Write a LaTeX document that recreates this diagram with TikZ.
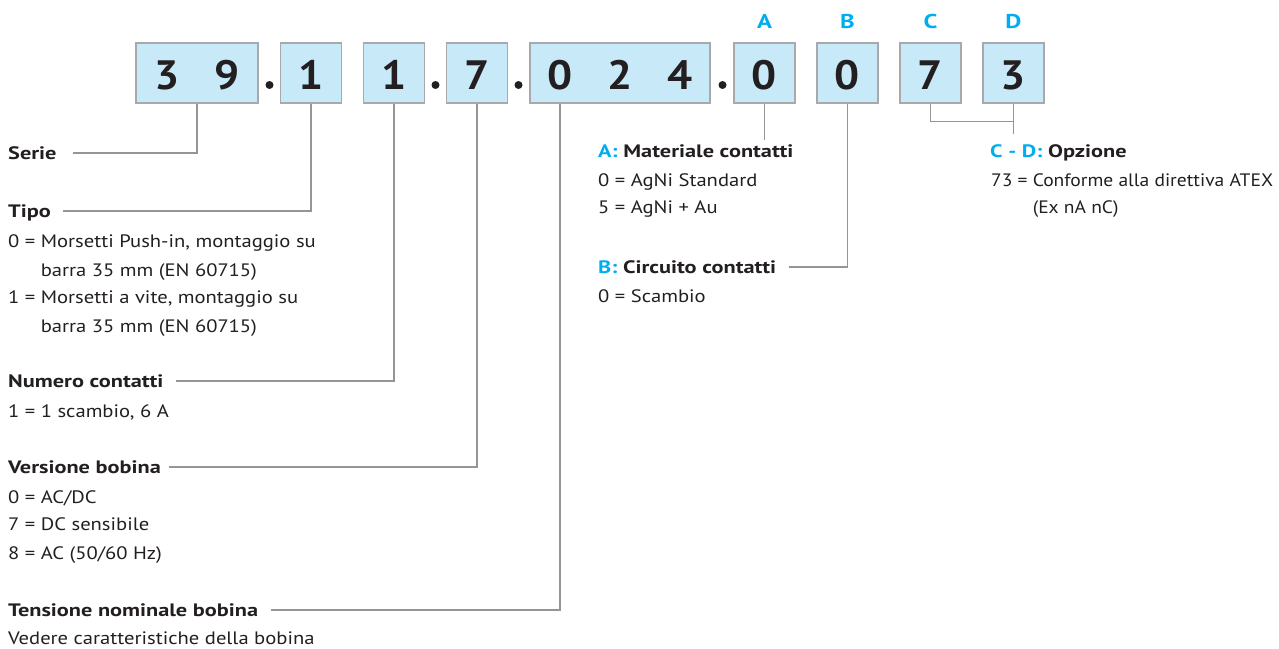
\documentclass[tikz,border=0pt]{standalone}
\usepackage{fontspec}
\setmainfont{PT Sans}
\newfontfamily\bodyfont{PT Sans}[FakeStretch=1.145]
\newfontfamily\headfont{PT Sans}[FakeStretch=1.24]
\newfontfamily\opzfont{PT Sans}[FakeStretch=1.085]
\newfontfamily\digfont{PT Sans}[FakeStretch=1.08]
\usetikzlibrary{calc}
\definecolor{ink}{HTML}{231F20}
\definecolor{cyanlbl}{HTML}{00AEEF}
\definecolor{boxfill}{HTML}{C8E9F8}
\definecolor{boxline}{HTML}{A7A9AC}
\definecolor{connc}{HTML}{939598}
\begin{document}
\begin{tikzpicture}[x=1pt,y=-1pt,
  cell/.style={draw=boxline, line width=1.6pt, fill=boxfill, minimum height=60pt, minimum width=61pt, inner sep=0pt},
  dig/.style={anchor=base, inner sep=0pt, text=ink, font=\digfont\bfseries\fontsize{41}{41}\selectfont},
  letter/.style={anchor=base, inner sep=0pt, text=cyanlbl, font=\headfont\bfseries\fontsize{20}{20}\selectfont},
  sep/.style={circle, fill=ink, inner sep=0pt, minimum size=8pt},
  head/.style={anchor=base west, inner sep=0pt, text height=13pt, text depth=0pt, text=ink, font=\headfont\bfseries\fontsize{18}{18}\selectfont},
  body/.style={anchor=base west, inner sep=0pt, text=ink, font=\bodyfont\fontsize{18}{18}\selectfont},
  opzbody/.style={body, font=\opzfont\fontsize{18}{18}\selectfont},
  conline/.style={draw=connc, line width=1.2pt}
]
\useasboundingbox (0,0) rectangle (1279,648);

% boxes
\node[cell, minimum width=122pt] (b39) at (197,73) {};
\node[cell] (bT) at (311,73) {};
\node[cell] (bN) at (394,73) {};
\node[cell] (bV) at (477,73) {};
\node[cell, minimum width=180pt] (b024) at (620,73) {};
\node[cell] (bA) at (764.5,73) {};
\node[cell] (bB) at (847.5,73) {};
\node[cell] (bC) at (930.5,73) {};
\node[cell] (bD) at (1013.5,73) {};

% digits
\node[dig] (d3) at (167,89) {3};
\node[dig] (d9) at (227,89) {9};
\node[dig] (dT) at (311,89) {1};
\node[dig] (dN) at (394,89) {1};
\node[dig] (dV) at (477,89) {7};
\node[dig] (d0) at (560,89) {0};
\node[dig] (d2) at (620,89) {2};
\node[dig] (d4) at (680,89) {4};
\node[dig] (dA) at (764.5,89) {0};
\node[dig] (dB) at (847.5,89) {0};
\node[dig] (dC) at (930.5,89) {7};
\node[dig] (dD) at (1013.5,89) {3};

% separators
\node[sep] (s1) at (269.5,85) {};
\node[sep] (s2) at (435.5,85) {};
\node[sep] (s3) at (518.5,85) {};
\node[sep] (s4) at (722.5,85) {};

% letters
\node[letter] (lA) at (764.5,28) {A};
\node[letter] (lB) at (847.5,28) {B};
\node[letter] (lC) at (930.5,28) {C};
\node[letter] (lD) at (1013.5,28) {D};

% left column
\node[head] (serie) at (8,159.5) {Serie};
\node[head] (tipo) at (8,217.5) {Tipo};
\node[body] (t1) at (8,247.5) {0 = Morsetti Push-in, montaggio su};
\node[body] (t2) at (8,276.5) {\hphantom{0 = }barra 35 mm (EN 60715)};
\node[body] (t3) at (8,303.5) {1 = Morsetti a vite, montaggio su};
\node[body] (t4) at (8,332.5) {\hphantom{1 = }barra 35 mm (EN 60715)};
\node[head] (numero) at (8,387.5) {Numero contatti};
\node[body] (n1) at (8,417.5) {1 = 1 scambio, 6 A};
\node[head] (versione) at (8,473.5) {Versione bobina};
\node[body] (v1) at (8,503.5) {0 = AC/DC};
\node[body] (v2) at (8,530.5) {7 = DC sensibile};
\node[body] (v3) at (8,559.5) {8 = AC (50/60 Hz)};
\node[head] (tensione) at (8,616.5) {Tensione nominale bobina};
\node[body] (te1) at (8,644.5) {Vedere caratteristiche della bobina};

% middle column
\node[head] (matA) at (598,157.5) {\textcolor{cyanlbl}{A:} Materiale contatti};
\node[body] (a1) at (598,186.5) {0 = AgNi Standard};
\node[body] (a2) at (598,213.5) {5 = AgNi + Au};
\node[head] (circB) at (598,273.5) {\textcolor{cyanlbl}{B:} Circuito contatti};
\node[body] (bb1) at (598,302.5) {0 = Scambio};

% right column
\node[head] (opz) at (990,157.5) {\textcolor{cyanlbl}{C - D:} Opzione};
\node[opzbody] (o1) at (991,186.5) {73 = Conforme alla direttiva ATEX};
\node[opzbody] (o2) at (991,213.5) {\hphantom{73 = }(Ex nA nC)};

% connectors
\draw[conline] (b39.south) |- ([xshift=16pt]serie.east);
\draw[conline] (bT.south) |- ([xshift=12pt]tipo.east);
\draw[conline] (bN.south) |- ([xshift=12pt]numero.east);
\draw[conline] (bV.south) |- ([xshift=8pt]versione.east);
\draw[conline] (d0 |- b024.south) |- ([xshift=13pt]tensione.east);
\draw[conline] (bA.south) -- ($(bA.south |- matA.north)+(0,-4)$);
\draw[conline] (bB.south) |- ([xshift=13pt]circB.east);
\draw[conline] (bC.south) |- ($(bD.south)+(0,18)$);
\draw[conline] (bD.south) -- ($(bD.south)+(0,30)$);
\end{tikzpicture}
\end{document}
